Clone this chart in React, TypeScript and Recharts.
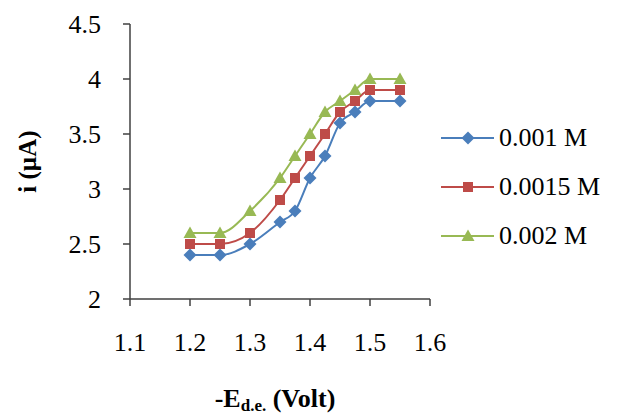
import { LineChart, Line, XAxis, YAxis } from 'recharts'

const voltages = [1.2, 1.25, 1.3, 1.35, 1.375, 1.4, 1.425, 1.45, 1.475, 1.5, 1.55]
const current001 = [2.4, 2.4, 2.5, 2.7, 2.8, 3.1, 3.3, 3.6, 3.7, 3.8, 3.8]
const current0015 = [2.5, 2.5, 2.6, 2.9, 3.1, 3.3, 3.5, 3.7, 3.8, 3.9, 3.9]
const current002 = [2.6, 2.6, 2.8, 3.1, 3.3, 3.5, 3.7, 3.8, 3.9, 4.0, 4.0]
const xTicks = [1.1, 1.2, 1.3, 1.4, 1.5, 1.6]
const yTicks = [2, 2.5, 3, 3.5, 4, 4.5]

const data = voltages.map((v, i) => ({
  v,
  a: current001[i],
  b: current0015[i],
  c: current002[i],
}))

const FONT = '"Liberation Serif", "Times New Roman", serif'

const SERIES = [
  { key: 'a', name: '0.001 M', color: '#4A7EBB', shape: 'diamond' },
  { key: 'b', name: '0.0015 M', color: '#BE4B48', shape: 'square' },
  { key: 'c', name: '0.002 M', color: '#98B954', shape: 'triangle' },
]

function Marker({ cx, cy, shape, color }: { cx: number; cy: number; shape: string; color: string }) {
  if (shape === 'diamond') {
    const r = 6.5
    return <polygon points={`${cx},${cy - r} ${cx + r},${cy} ${cx},${cy + r} ${cx - r},${cy}`} fill={color} />
  }
  if (shape === 'square') {
    const r = 5
    return <rect x={cx - r} y={cy - r} width={r * 2} height={r * 2} fill={color} />
  }
  const r = 6.5
  return <polygon points={`${cx},${cy - r} ${cx + r},${cy + r * 0.75} ${cx - r},${cy + r * 0.75}`} fill={color} />
}

const renderDot = (shape: string, color: string) => (props: any) =>
  <Marker key={props.index} cx={props.cx} cy={props.cy} shape={shape} color={color} />

// legend drawn as an overlay so it doesn't eat into the plot area
function LegendBox() {
  return (
    <div style={{ position: 'absolute', left: 440, top: 113, fontFamily: FONT, fontSize: 26, color: '#000' }}>
      {SERIES.map((s) => (
        <div key={s.key} style={{ display: 'flex', alignItems: 'center', height: 49, whiteSpace: 'nowrap' }}>
          <svg width={56} height={20}>
            <line x1={1} y1={10} x2={54} y2={10} stroke={s.color} strokeWidth={2} />
            <Marker cx={28} cy={10} shape={s.shape} color={s.color} />
          </svg>
          <span style={{ marginLeft: 3 }}>{s.name}</span>
        </div>
      ))}
    </div>
  )
}

export default function App() {
  return (
    <div style={{ position: 'absolute', left: 0, top: 0, width: 622, height: 416, background: '#fff' }}>
      <LineChart width={622} height={416} data={data} margin={{ top: 24, right: 192, left: 0, bottom: 57 }}>
        <XAxis
          dataKey="v"
          type="number"
          domain={[1.1, 1.6]}
          ticks={xTicks}
          interval={0}
          height={60}
          tickSize={7}
          tickMargin={27}
          stroke="#404040"
          strokeWidth={1.5}
          tick={{ fontFamily: FONT, fontSize: 26, fill: '#000' }}
          label={({ viewBox }: any) => (
            <text x={viewBox.x + viewBox.width / 2 - 5} y={407} textAnchor="middle" fontFamily={FONT} fontWeight="bold" fontSize={26} fill="#000">
              -E
              <tspan fontSize={17} dy={4}>d.e.</tspan>
              <tspan dy={-4}> (Volt)</tspan>
            </text>
          )}
        />
        <YAxis
          type="number"
          domain={[2, 4.5]}
          ticks={yTicks}
          interval={0}
          width={130}
          tickSize={7}
          tickMargin={22}
          stroke="#404040"
          strokeWidth={1.5}
          tick={{ fontFamily: FONT, fontSize: 26, fill: '#000' }}
          label={({ viewBox }: any) => (
            <text
              x={27}
              y={viewBox.y + viewBox.height / 2}
              transform={`rotate(-90, 27, ${viewBox.y + viewBox.height / 2})`}
              textAnchor="middle"
              dominantBaseline="central"
              fontFamily={FONT}
              fontWeight="bold"
              fontSize={25}
              fill="#000"
            >
              i (µA)
            </text>
          )}
        />
        {SERIES.map((s) => (
          <Line
            key={s.key}
            dataKey={s.key}
            name={s.name}
            type="monotone"
            stroke={s.color}
            strokeWidth={2}
            dot={renderDot(s.shape, s.color)}
            activeDot={false}
            isAnimationActive={false}
          />
        ))}
      </LineChart>
      <LegendBox />
    </div>
  )
}
